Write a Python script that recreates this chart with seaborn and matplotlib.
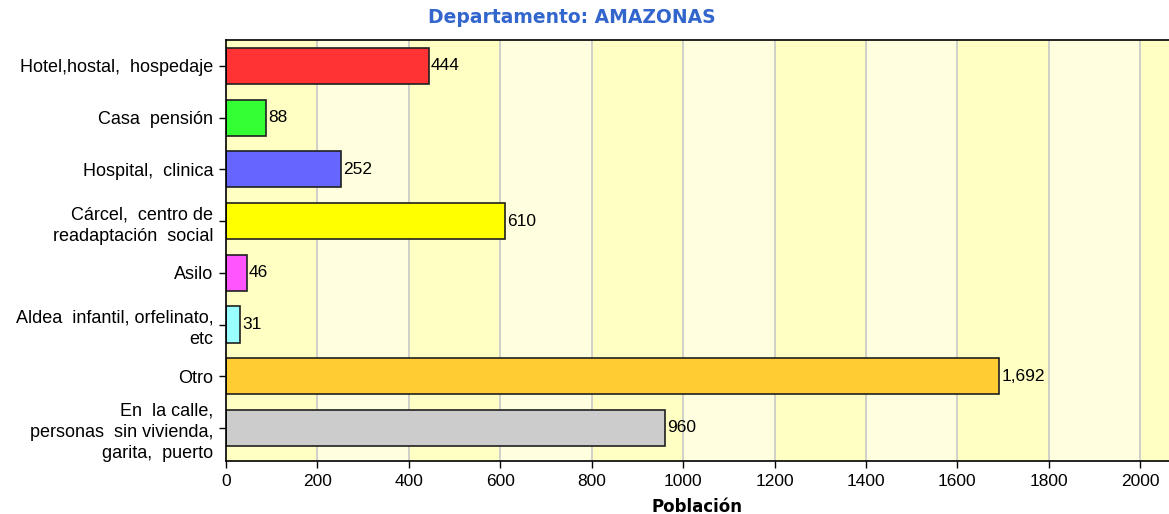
import pandas as pd
import seaborn as sns
import matplotlib.pyplot as plt

# Categories and values
categorias = [
    "Hotel,hostal,  hospedaje",
    "Casa  pensión",
    "Hospital,  clinica",
    "Cárcel,  centro de\nreadaptación  social",
    "Asilo",
    "Aldea  infantil, orfelinato,\netc",
    "Otro",
    "En  la calle,\npersonas  sin vivienda,\ngarita,  puerto",
]
poblacion = [444, 88, 252, 610, 46, 31, 1692, 960]
colores = ["#FF3333", "#33FF33", "#6666FF", "#FFFF00",
           "#FF55FF", "#99FFFF", "#FFCC33", "#CCCCCC"]

df = pd.DataFrame({"categoria": categorias, "poblacion": poblacion})

sns.set_style("white")
plt.rcParams["font.family"] = ["Liberation Sans", "DejaVu Sans"]
plt.rcParams["text.color"] = "black"
plt.rcParams["axes.labelcolor"] = "black"
plt.rcParams["xtick.color"] = "black"
plt.rcParams["ytick.color"] = "black"

fig = plt.figure(figsize=(11.69, 5.14), dpi=100)
ax = fig.add_axes([0.1933, 0.103, 0.8067, 0.819])

# alternating background bands every 200
xmax = 2063
for i, x0 in enumerate(range(0, 2200, 200)):
    ax.axvspan(x0, x0 + 200, color="#FFFFC4" if i % 2 == 0 else "#FFFFE0", zorder=0, lw=0)
for x in range(200, 2200, 200):
    ax.axvline(x, color="#C8C8C8", lw=1.2, zorder=0.5)

sns.barplot(data=df, y="categoria", x="poblacion", hue="categoria",
            palette=colores, legend=False, orient="h", width=0.7,
            edgecolor="#202020", linewidth=1.2, saturation=1, ax=ax, zorder=2)

for i, v in enumerate(poblacion):
    ax.text(v + 4, i, f"{v:,}", va="center", ha="left", fontsize=12.5, color="black")

ax.set_xlim(0, xmax)
ax.set_ylim(len(categorias) - 0.36, -0.5)
ax.set_xticks(range(0, 2200, 200))
ax.tick_params(axis="x", labelsize=12.5)
ax.tick_params(axis="y", labelsize=13)
ax.tick_params(axis="both", length=5, width=1, direction="out",
               bottom=True, left=True, pad=4)
for lab in ax.get_yticklabels():
    lab.set_linespacing(1.35)
ax.set_ylabel("")
ax.set_xlabel("Población", fontsize=12, fontweight="bold", family="DejaVu Sans", labelpad=7)
for s in ["top", "left", "bottom"]:
    ax.spines[s].set_color("black")
    ax.spines[s].set_linewidth(1.2)
ax.spines["right"].set_visible(False)

fig.text(0.489, 0.965, "Departamento: AMAZONAS", ha="center", va="center",
         fontsize=13.5, fontweight="bold", color="#3366CC", family="DejaVu Sans")

fig.savefig("out.png", dpi=100)
